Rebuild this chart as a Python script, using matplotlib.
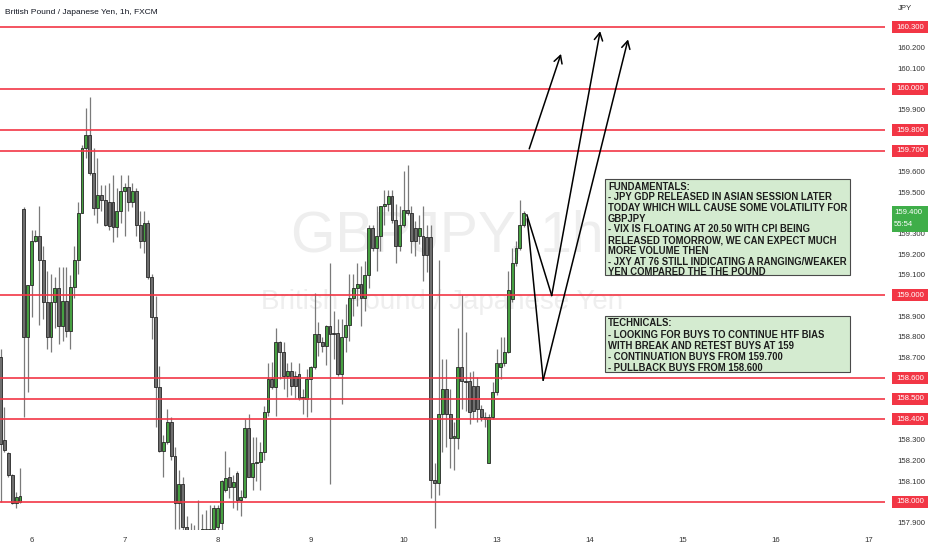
import matplotlib
matplotlib.use("Agg")
import matplotlib.pyplot as plt
from matplotlib.patches import Rectangle
from matplotlib.transforms import blended_transform_factory

# ---- data (GBPJPY 1h, FXCM) ----
title = "British Pound / Japanese Yen, 1h, FXCM"

opens = [158.70, 158.30, 158.235, 158.13, 157.995, 158.00, 159.42, 158.80,
         159.05, 159.265, 159.29, 159.17, 158.97, 158.80, 158.97, 159.035,
         158.85, 158.975, 158.83, 159.04, 159.17, 159.40, 159.715, 159.775,
         159.595, 159.425, 159.485, 159.46, 159.455, 159.455, 159.33, 159.41,
         159.505, 159.525, 159.455, 159.505, 159.34, 159.265, 159.35, 159.09,
         158.895, 158.555, 158.245, 158.29, 158.385, 158.22, 157.995, 158.085,
         157.88, 157.84, 157.86, 157.82, 157.85, 157.87, 157.84, 157.87,
         157.88, 157.90, 158.06, 158.12, 158.07, 158.14, 158.01, 158.025,
         158.36, 158.12, 158.19, 158.195, 158.24, 158.435, 158.595, 158.555,
         158.775, 158.725, 158.61, 158.635, 158.61, 158.62, 158.505, 158.50,
         158.595, 158.655, 158.815, 158.775, 158.755, 158.85, 158.82, 158.82,
         158.62, 158.80, 158.855, 158.99, 159.035, 159.055, 158.99, 159.10,
         159.325, 159.23, 159.29, 159.435, 159.445, 159.48, 159.365, 159.24,
         159.34, 159.415, 159.40, 159.325, 159.29, 159.29, 159.285, 159.285,
         158.105, 158.09, 158.425, 158.545, 158.425, 158.31, 158.31, 158.655,
         158.585, 158.585, 158.56, 158.56, 158.45, 158.41, 158.19, 158.41,
         158.53, 158.655, 158.675, 158.725, 158.985, 159.155, 159.23, 159.34]
highs = [158.74, 158.46, 158.24, 158.135, 158.05, 158.165, 159.43, 159.05,
         159.315, 159.315, 159.435, 159.24, 159.12, 159.105, 159.09, 159.14,
         159.14, 159.14, 159.10, 159.24, 159.455, 159.73, 159.91, 159.96,
         159.715, 159.665, 159.535, 159.535, 159.545, 159.585, 159.52, 159.585,
         159.545, 159.585, 159.545, 159.52, 159.41, 159.41, 159.365, 159.105,
         158.995, 158.66, 158.325, 158.45, 158.41, 158.265, 158.155, 158.12,
         157.93, 157.90, 157.89, 158.01, 157.94, 157.96, 157.985, 157.985,
         157.985, 158.105, 158.245, 158.17, 158.13, 158.15, 158.06, 158.40,
         158.425, 158.315, 158.315, 158.29, 158.465, 158.675, 158.68, 158.84,
         158.78, 158.775, 158.675, 158.68, 158.635, 158.675, 158.545, 158.645,
         158.66, 159.01, 158.87, 158.80, 158.855, 159.155, 158.925, 158.885,
         158.885, 158.96, 159.105, 159.105, 159.155, 159.145, 159.165, 159.34,
         159.34, 159.435, 159.435, 159.51, 159.51, 159.51, 159.445, 159.435,
         159.605, 159.63, 159.435, 159.36, 159.39, 159.435, 159.34, 159.34,
         158.19, 159.17, 158.69, 158.69, 158.545, 158.385, 158.84, 159.00,
         158.825, 158.63, 158.635, 158.605, 158.47, 158.435, 158.425, 158.58,
         158.74, 158.80, 158.80, 159.12, 159.23, 159.265, 159.46, 159.41]
lows = [158.00, 158.24, 158.12, 157.99, 157.97, 157.995, 158.41, 158.53,
        158.895, 159.26, 158.855, 158.885, 158.74, 158.725, 158.84, 158.765,
        158.78, 158.80, 158.74, 158.99, 159.105, 159.40, 159.665, 159.585,
        159.39, 159.35, 159.41, 159.335, 159.315, 159.26, 159.285, 159.35,
        159.29, 159.41, 159.43, 159.29, 159.23, 159.205, 159.08, 158.79,
        158.365, 158.24, 158.12, 158.28, 158.205, 157.87, 157.87, 157.82,
        157.80, 157.78, 157.79, 157.80, 157.80, 157.81, 157.82, 157.83,
        157.84, 157.85, 158.05, 158.02, 157.97, 157.96, 157.93, 158.02,
        158.12, 158.06, 158.10, 158.06, 158.205, 158.415, 158.545, 158.415,
        158.595, 158.545, 158.51, 158.52, 158.505, 158.495, 158.425, 158.41,
        158.435, 158.645, 158.705, 158.725, 158.665, 158.085, 158.69, 158.61,
        158.475, 158.725, 158.78, 158.90, 158.95, 158.85, 158.925, 159.035,
        159.215, 159.12, 159.215, 159.34, 159.41, 159.35, 159.155, 159.215,
        159.33, 159.39, 159.205, 159.19, 159.25, 159.07, 159.115, 158.02,
        157.875, 158.035, 158.24, 158.265, 158.165, 158.155, 158.255, 158.45,
        158.44, 158.375, 158.40, 158.385, 158.39, 158.365, 158.19, 158.40,
        158.52, 158.595, 158.66, 158.72, 158.97, 159.145, 159.22, 159.33]
closes = [158.28, 158.25, 158.13, 157.995, 158.025, 158.03, 158.80, 159.05,
          159.265, 159.29, 159.17, 158.97, 158.80, 158.97, 159.035, 158.85,
          158.975, 158.83, 159.04, 159.17, 159.40, 159.715, 159.775, 159.595,
          159.425, 159.485, 159.46, 159.34, 159.335, 159.33, 159.41, 159.505,
          159.525, 159.455, 159.505, 159.34, 159.265, 159.35, 159.09, 158.895,
          158.555, 158.245, 158.29, 158.385, 158.22, 157.995, 158.085, 157.88,
          157.84, 157.86, 157.82, 157.85, 157.87, 157.84, 157.87, 157.97,
          157.97, 158.10, 158.115, 158.07, 158.095, 158.01, 158.025, 158.36,
          158.12, 158.19, 158.195, 158.24, 158.435, 158.595, 158.555, 158.775,
          158.725, 158.61, 158.635, 158.56, 158.56, 158.505, 158.51, 158.595,
          158.655, 158.815, 158.775, 158.755, 158.85, 158.815, 158.815, 158.62,
          158.80, 158.855, 158.99, 159.035, 159.055, 158.99, 159.10, 159.325,
          159.23, 159.29, 159.435, 159.445, 159.48, 159.365, 159.24, 159.34,
          159.415, 159.40, 159.265, 159.265, 159.325, 159.195, 159.195, 158.105,
          158.09, 158.425, 158.545, 158.425, 158.31, 158.32, 158.655, 158.585,
          158.58, 158.435, 158.44, 158.45, 158.41, 158.40, 158.41, 158.53,
          158.675, 158.675, 158.725, 159.025, 159.155, 159.23, 159.34, 159.40]

# bar index of the first hourly bar of each day
day_ticks = [8, 32, 56, 80, 104, 128, 152, 176, 200, 224]
day_labels = ["6", "7", "8", "9", "10", "13", "14", "15", "16", "17"]

# horizontal levels drawn on the chart
levels = [160.3, 160.0, 159.8, 159.7, 159.0, 158.6, 158.5, 158.4, 158.0]
scale_ticks = [160.2, 160.1, 159.9, 159.6, 159.5, 159.3, 159.2, 159.1,
               158.9, 158.8, 158.7, 158.3, 158.2, 158.1, 157.9]
last_price = 159.40
countdown = "55:54"

# projected paths (bar index, price)
path_up = [(136.4, 159.71), (144.6, 160.17)]
path_v1 = [(135.8, 159.39), (142.2, 159.00), (154.7, 160.28)]
path_v2 = [(135.9, 159.37), (140.0, 158.59), (161.9, 160.24)]

fundamentals = [
    "FUNDAMENTALS:",
    "- JPY GDP RELEASED IN ASIAN SESSION LATER",
    "TODAY WHICH WILL CAUSE SOME VOLATILITY FOR",
    "GBPJPY",
    "- VIX IS FLOATING AT 20.50 WITH CPI BEING",
    "RELEASED TOMORROW, WE CAN EXPECT MUCH",
    "MORE VOLUME THEN",
    "- JXY AT 76 STILL INDICATING A RANGING/WEAKER",
    "YEN COMPARED THE THE POUND",
]
technicals = [
    "TECHNICALS:",
    "- LOOKING FOR BUYS TO CONTINUE HTF BIAS",
    "WITH BREAK AND RETEST BUYS AT 159",
    "- CONTINUATION BUYS FROM 159.700",
    "- PULLBACK BUYS FROM 158.600",
]

RED = "#f23645"
GREEN = "#46a041"
GREY = "#6e6e6e"
FONT = "Liberation Sans"
SCALE_FS = 5.6

fig = plt.figure(figsize=(9.32, 5.5), dpi=100)
ax = fig.add_axes([0, 20 / 550, 885 / 932, 530 / 550])
ax.set_xlim(-0.155, 228.2)
ax.set_ylim(157.864, 160.431)
for s in ax.spines.values():
    s.set_visible(False)

# watermark
ax.text(0.505, 0.553, "GBPJPY, 1h", transform=ax.transAxes, ha="center", va="center",
        fontsize=41, color="#eeeeee", family=FONT, zorder=0)
ax.text(0.5, 0.430, "British Pound / Japanese Yen", transform=ax.transAxes,
        ha="center", va="center", fontsize=20, color="#eeeeee", family=FONT, zorder=0)

# candles
idx = list(range(len(opens)))
body_col = [GREEN if c >= o else GREY for o, c in zip(opens, closes)]
ax.vlines(idx, lows, highs, color="#7a7a7a", lw=0.9, zorder=2)
bottoms = [min(o, c) for o, c in zip(opens, closes)]
heights = [max(abs(c - o), 0.004) for o, c in zip(opens, closes)]
ax.bar(idx, heights, bottom=bottoms, width=0.74, color=body_col,
       edgecolor="#262626", linewidth=0.6, zorder=3)

# levels
for lv in levels:
    ax.axhline(lv, color=RED, lw=1.2, zorder=4)

# projected paths
for path in (path_up, path_v1, path_v2):
    xs = [p[0] for p in path]
    ys = [p[1] for p in path]
    ax.plot(xs[:-1], ys[:-1], color="black", lw=1.1, zorder=5)
    ax.annotate("", xy=path[-1], xytext=path[-2],
                arrowprops=dict(arrowstyle="->,head_length=0.55,head_width=0.3",
                                color="black", lw=1.1, shrinkA=0, shrinkB=0),
                zorder=5)

# note boxes
def note(lines, x0, y0, x1, y1, spacing):
    ax.add_patch(Rectangle((x0 / 885, (530 - y1) / 530), (x1 - x0) / 885,
                           (y1 - y0) / 530, transform=ax.transAxes,
                           facecolor="#d4ebd0", edgecolor="#4a4a4a", lw=0.8, zorder=6))
    ax.text((x0 + 3) / 885, (530 - y0 - 2.5) / 530, "\n".join(lines),
            transform=ax.transAxes, ha="left", va="top", fontsize=6.85,
            fontweight="bold", family=FONT, color="#1c1c1c",
            linespacing=spacing, zorder=7)

note(fundamentals, 605, 179, 850, 275, 1.09)
note(technicals, 605, 316, 850, 372, 1.15)

# x axis (days)
ax.set_xticks(day_ticks)
ax.set_xticklabels(day_labels, family=FONT, fontsize=SCALE_FS, color="#333333")
ax.tick_params(axis="x", length=0, pad=5)

# price scale
ax.yaxis.tick_right()
ax.set_yticks(scale_ticks)
ax.set_yticklabels([f"{t:.3f}" for t in scale_ticks], family=FONT,
                   fontsize=SCALE_FS, color="#333333")
ax.tick_params(axis="y", length=0, pad=9)

tr = blended_transform_factory(ax.transAxes, ax.transData)
px = 1 / 206.5
for lv in levels:
    ax.add_patch(Rectangle((892 / 885, lv - 6 * px), 36 / 885, 12 * px, transform=tr,
                           facecolor=RED, edgecolor="none", clip_on=False, zorder=8))
    ax.text(910 / 885, lv, f"{lv:.3f}", transform=tr, ha="center", va="center",
            fontsize=SCALE_FS, color="white", family=FONT, clip_on=False, zorder=9)

ax.add_patch(Rectangle((892 / 885, last_price - 19 * px), 36 / 885, 26 * px,
                       transform=tr, facecolor="#3fae49", edgecolor="none",
                       clip_on=False, zorder=8))
ax.text(894 / 885, last_price, f"{last_price:.3f}", transform=tr, ha="left",
        va="center", fontsize=SCALE_FS, color="white", family=FONT, clip_on=False, zorder=9)
ax.text(894 / 885, last_price - 12 * px, countdown, transform=tr, ha="left",
        va="center", fontsize=SCALE_FS, color="white", family=FONT, clip_on=False, zorder=9)

fig.text(898 / 932, 1 - 8 / 550, "JPY", ha="left", va="center", fontsize=SCALE_FS,
         color="#333333", family=FONT)
fig.text(5 / 932, 1 - 12 / 550, title, ha="left", va="center", fontsize=6.0,
         color="#131722", family=FONT)

fig.savefig("out.png", dpi=100)
